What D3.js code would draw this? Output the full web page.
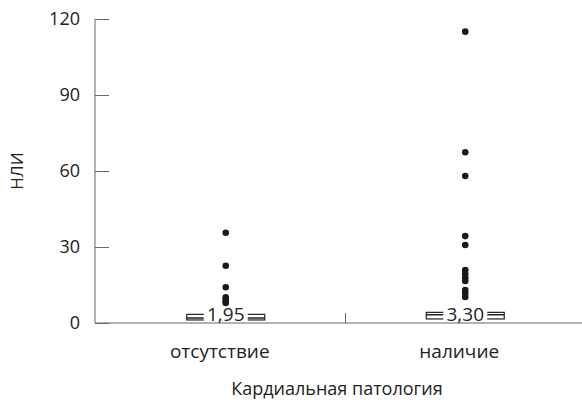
<!DOCTYPE html>
<html><head><meta charset="utf-8">
<script src="https://cdn.jsdelivr.net/npm/d3@7"></script>
<style>body{margin:0;background:#fff}svg{display:block}text{font-family:"Open Sans",sans-serif;fill:#222}</style>
</head><body><div id="c"></div>
<script>
const categories = ["отсутствие", "наличие"];
const medians = [1.95, 3.30];
const medianLabels = ["1,95", "3,30"];
const q1 = [1.2, 1.6];
const q3 = [3.4, 4.2];
const outliersAbsent = [35.6, 22.6, 14.1, 10.1, 9.2, 8.5, 7.9];
const outliersPresent = [115, 67.4, 58.0, 34.3, 30.8, 20.9, 19.3, 17.8, 16.6, 13.0, 11.8, 10.3];
const yTicks = [0, 30, 60, 90, 120];
const yLabel = "НЛИ";
const xLabel = "Кардиальная патология";

const W = 582, H = 406;
const svg = d3.select("#c").append("svg").attr("width", W).attr("height", H);
const y = d3.scaleLinear().domain([0, 120]).range([323, 19]);
const x = d3.scaleBand().domain(categories).range([106, 585]);
const axisColor = "#666";

// y axis
const ya = svg.append("g").attr("transform", "translate(95,0)")
  .call(d3.axisRight(y).tickValues(yTicks).tickSize(14).tickFormat(""));
ya.select(".domain").remove();
ya.selectAll("line").attr("stroke", axisColor);
svg.append("line").attr("x1", 95).attr("x2", 95).attr("y1", y(120)).attr("y2", y(0)).attr("stroke", axisColor);
svg.selectAll(".ytl").data(yTicks).join("text").attr("class", "ytl")
  .attr("x", 80).attr("y", d => y(d)).attr("dy", "0.36em").attr("text-anchor", "end")
  .attr("font-size", 18).text(d => d);

// x axis line
svg.append("line").attr("x1", 95).attr("x2", 582).attr("y1", y(0)).attr("y2", y(0)).attr("stroke", axisColor);
const bnd = x(categories[1]);
svg.append("line").attr("x1", bnd).attr("x2", bnd).attr("y1", y(0)).attr("y2", y(0) - 10).attr("stroke", axisColor);
svg.selectAll(".xtl").data(categories).join("text").attr("class", "xtl")
  .attr("x", d => x(d) + x.bandwidth() / 2 - 6).attr("y", 358).attr("text-anchor", "middle")
  .attr("font-size", 19).text(d => d);

// axis titles
svg.append("text").attr("transform", `translate(23,171) rotate(-90)`).attr("text-anchor", "middle")
  .attr("font-size", 17).text(yLabel);
svg.append("text").attr("x", 337).attr("y", 395).attr("text-anchor", "middle")
  .attr("font-size", 18).text(xLabel);

// boxes
const bw = 78;
categories.forEach((c, i) => {
  const cx = x(c) + x.bandwidth() / 2;
  const g = svg.append("g");
  g.append("rect").attr("x", cx - bw / 2).attr("y", y(q3[i])).attr("width", bw)
    .attr("height", y(q1[i]) - y(q3[i])).attr("fill", "none").attr("stroke", "#222").attr("stroke-width", 1.2);
  g.append("line").attr("x1", cx - bw / 2).attr("x2", cx + bw / 2).attr("y1", y(medians[i])).attr("y2", y(medians[i]))
    .attr("stroke", "#222").attr("stroke-width", 1.5);
  g.append("rect").attr("x", cx - 22).attr("y", y(0) - 18).attr("width", 44).attr("height", 17).attr("fill", "#fff");
  g.append("text").attr("x", cx).attr("y", y(0) - 2).attr("text-anchor", "middle").attr("font-size", 19).text(medianLabels[i]);
});

// outliers
const pts = [outliersAbsent, outliersPresent];
pts.forEach((arr, i) => {
  const cx = x(categories[i]) + x.bandwidth() / 2;
  svg.selectAll(null).data(arr).join("circle").attr("cx", cx).attr("cy", d => y(d)).attr("r", 3.3).attr("fill", "#1a1a1a");
});
</script></body></html>
